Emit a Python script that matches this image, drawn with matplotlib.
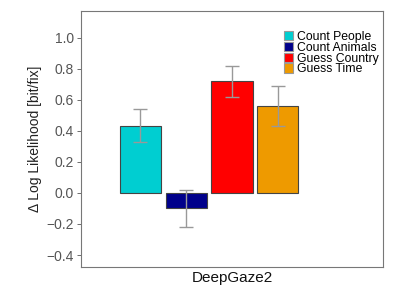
import matplotlib
matplotlib.use("Agg")
import matplotlib.pyplot as plt
import numpy as np

plt.rcParams['font.family'] = ['Liberation Sans', 'DejaVu Sans']

tasks = ["Count People", "Count Animals", "Guess Country", "Guess Time"]
values = [0.43, -0.10, 0.72, 0.56]
err_lo = [0.33, -0.22, 0.62, 0.43]
err_hi = [0.54, 0.02, 0.82, 0.69]
colors = ["#00CED1", "#00008B", "#FF0000", "#EE9A00"]
yticks = [-0.4, -0.2, 0.0, 0.2, 0.4, 0.6, 0.8, 1.0]

fig = plt.figure(figsize=(4.15, 2.94), dpi=100)
ax = fig.add_axes([0.195, 0.092, 0.728, 0.871])

x = np.arange(len(tasks))
yerr = [np.array(values) - np.array(err_lo), np.array(err_hi) - np.array(values)]
bars = ax.bar(x, values, width=0.9, color=colors, edgecolor="#444444", linewidth=0.8,
              label=tasks, zorder=2)
ax.errorbar(x, values, yerr=yerr, fmt="none", ecolor="#999999", elinewidth=1,
            capsize=4.8, capthick=1, zorder=3)

ax.set_xlim(-1.3, 5.3)
ax.set_ylim(-0.477, 1.174)
ax.set_yticks(yticks)
ax.set_yticklabels([f"{t:.1f}".replace("-", "\u2212") for t in yticks])
ax.set_xticks([])
ax.tick_params(axis="y", colors="#555555", labelsize=10, length=3, width=0.6, pad=2)
for s in ax.spines.values():
    s.set_color("#777777")
    s.set_linewidth(0.8)

ax.set_ylabel("\u0394 Log Likelihood [bit/fix]", fontsize=10, color="#222222", labelpad=3)
ax.set_xlabel("DeepGaze2", fontsize=11, color="#111111", labelpad=3)

# compact legend, rows packed close like the original
leg = ax.legend(bars, tasks, loc="upper right", bbox_to_anchor=(1.01, 0.95),
                frameon=False, fontsize=8.8, handlelength=0.75, handleheight=0.8,
                labelspacing=-0.1, handletextpad=0.3, borderaxespad=0.2)
for h in leg.legend_handles:
    h.set_edgecolor("#999999")

fig.savefig("out.png", dpi=100)
